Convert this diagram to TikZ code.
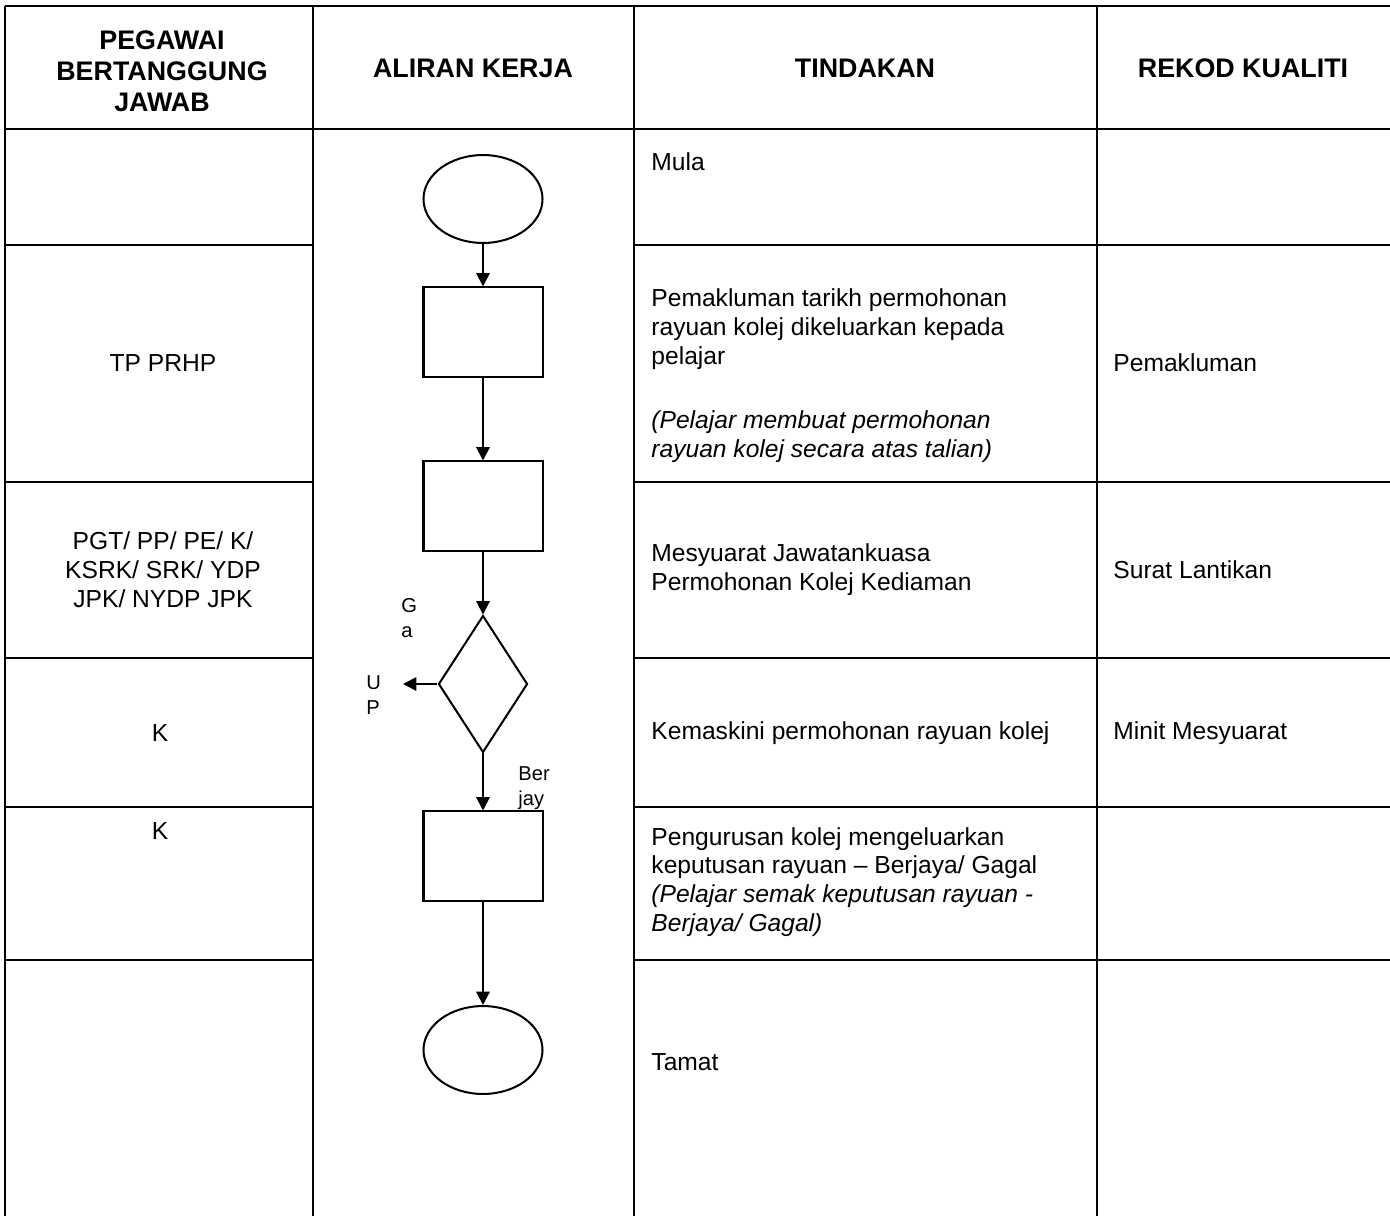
\documentclass[tikz,border=0pt]{standalone}
\usepackage{fontspec}
\setmainfont{Liberation Sans}
\usetikzlibrary{shapes.geometric,arrows.meta}

\tikzset{
  tableline/.style={line width=1.3pt},
  flow/.style={draw, line width=0.9pt, inner sep=0pt},
  terminal/.style={flow, ellipse, minimum width=53.2pt, minimum height=39.3pt},
  process/.style={flow, rectangle, minimum width=53.2pt, minimum height=39.8pt},
  decision/.style={flow, diamond, minimum width=39.8pt, minimum height=61.2pt},
  link/.style={line width=0.9pt, -{Triangle[length=6pt,width=6pt]}},
  head/.style={font=\fontsize{12}{13.9}\selectfont\bfseries, align=center, inner sep=0pt},
  cell/.style={font=\fontsize{11}{12.9}\selectfont, align=left, inner sep=0pt, anchor=west},
  mid/.style={font=\fontsize{11}{12.9}\selectfont, align=center, inner sep=0pt},
  tag/.style={font=\fontsize{9}{11.2}\selectfont, align=left, inner sep=0pt, anchor=west}
}

\begin{document}
\begin{tikzpicture}[x=0.447pt, y=-0.447pt]
  \useasboundingbox (0,0) rectangle (1390,1216);

  % table frame
  \draw[tableline] (5,6) -- (1390,6);
  \draw[tableline] (5,129) -- (1390,129);
  \draw[tableline] (5,6) -- (5,1216);
  \draw[tableline] (313,6) -- (313,1216);
  \draw[tableline] (634,6) -- (634,1216);
  \draw[tableline] (1097,6) -- (1097,1216);
  % row lines skip the flow column
  \draw[tableline] (5,245) -- (313,245)  (634,245) -- (1390,245);
  \draw[tableline] (5,482) -- (313,482)  (634,482) -- (1390,482);
  \draw[tableline] (5,658) -- (313,658)  (634,658) -- (1390,658);
  \draw[tableline] (5,807) -- (313,807)  (634,807) -- (1390,807);
  \draw[tableline] (5,960) -- (313,960)  (634,960) -- (1390,960);

  % headers
  \node[head] (hpegawai) at (162,71) {PEGAWAI\\BERTANGGUNG\\JAWAB};
  \node[head] (haliran) at (473,68) {ALIRAN KERJA};
  \node[head] (htindakan) at (865,68) {TINDAKAN};
  \node[head] (hrekod) at (1243,68) {REKOD KUALITI};

  % flow shapes
  \node[terminal] (mula) at (483,199) {};
  \node[process] (maklum) at (483,332) {};
  \node[process] (mesyuarat) at (483,506) {};
  \node[decision] (semak) at (483,684) {};
  \node[process] (keputusan) at (483,856) {};
  \node[terminal] (tamat) at (483,1050) {};
  \coordinate (up) at (403,684);

  \draw[link] (mula) -- (maklum);
  \draw[link] (maklum) -- (mesyuarat);
  \draw[link] (mesyuarat) -- (semak);
  \draw[link] (semak) -- (keputusan);
  \draw[link] (keputusan) -- (tamat);
  \draw[link] (semak.west) -- (up);

  \node[tag] (gagal) at (401,618) {G\\a};
  \node[tag] (upnote) at (366,695) {U\\P};
  \node[tag] (berjaya) at (518,788) {Ber\\jay};

  % pegawai column
  \node[mid] (tpprhp) at (163,363) {TP PRHP};
  \node[mid] (jawatan) at (163,570) {PGT/ PP/ PE/ K/\\KSRK/ SRK/ YDP\\JPK/ NYDP JPK};
  \node[mid] (kolej1) at (160,733) {K};
  \node[mid] (kolej2) at (160,831) {K};

  % tindakan column
  \node[cell] (tmula) at (651,162) {Mula};
  \node[cell] (tmaklum) at (651,329) {Pemakluman tarikh permohonan\\rayuan kolej dikeluarkan kepada\\pelajar};
  \node[cell] (tmaklumb) at (651,437) {\itshape (Pelajar membuat permohonan\\\itshape rayuan kolej secara atas talian)};
  \node[cell] (tmesyuarat) at (651,570) {Mesyuarat Jawatankuasa\\Permohonan Kolej Kediaman};
  \node[cell] (tkemaskini) at (651,733) {Kemaskini permohonan rayuan kolej};
  \node[cell] (tkeputusan) at (651,882) {Pengurusan kolej mengeluarkan\\keputusan rayuan -- Berjaya/ Gagal\\\itshape (Pelajar semak keputusan rayuan -\\\itshape Berjaya/ Gagal)};
  \node[cell] (ttamat) at (651,1062) {Tamat};

  % rekod column
  \node[cell] (rmaklum) at (1113,363) {Pemakluman};
  \node[cell] (rsurat) at (1113,570) {Surat Lantikan};
  \node[cell] (rminit) at (1113,733) {Minit Mesyuarat};
\end{tikzpicture}
\end{document}
